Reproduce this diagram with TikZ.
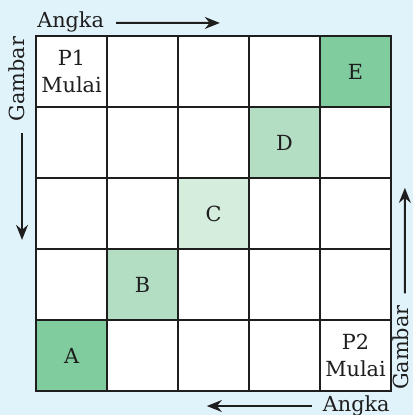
\documentclass[tikz,border=0pt]{standalone}
\usepackage{xcolor}
\usepackage{tikz}
\usepackage{fontspec}
\setmainfont{DejaVu Serif}
\usetikzlibrary{arrows.meta,positioning,calc}
\definecolor{bgblue}{HTML}{E1F3FA}
\definecolor{gdark}{HTML}{80CC9E}
\definecolor{gmid}{HTML}{B3DEC4}
\definecolor{glight}{HTML}{D5EDDD}
\definecolor{ink}{HTML}{1E1E1E}

\begin{document}
\begin{tikzpicture}[
  cell/.style={draw=ink, line width=1.8pt, fill=white, minimum size=1.8cm, inner sep=0pt, align=center, text=ink},
  lbl/.style={inner sep=0pt, text=ink},
  arr/.style={-{Stealth[length=3.8mm,width=3mm]}, line width=1.5pt, draw=ink},
  font=\fontsize{15}{19}\selectfont
]
  \fill[bgblue] (-0.913,-0.608) rectangle (9.558,9.912);
  \useasboundingbox (-0.913,-0.608) rectangle (9.558,9.912);

  % 5x5 board
  \foreach \col in {1,...,5}
    \foreach \row in {1,...,5}
      \node[cell] (c\col\row) at ({(\col-0.5)*1.8},{(5.5-\row)*1.8}) {};

  \node[cell, fill=gdark]  (E) at (c51) {E};
  \node[cell, fill=gmid]   (D) at (c42) {D};
  \node[cell, fill=glight] (C) at (c33) {C};
  \node[cell, fill=gmid]   (B) at (c24) {B};
  \node[cell, fill=gdark]  (A) at (c15) {A};

  \node[align=center, text=ink] (p1) at (c11) {P1\\Mulai};
  \node[align=center, text=ink] (p2) at (c55) {P2\\Mulai};

  % axis labels
  \node[lbl, anchor=west] (angkaTop) at (0.025,9.35) {Angka};
  \node[lbl, anchor=east] (angkaBot) at (8.97,-0.38) {Angka};
  \node[lbl, rotate=90] (gambarLeft) at (-0.48,7.91) {Gambar};
  \node[lbl, rotate=90] (gambarRight) at (9.25,1.1) {Gambar};

  \coordinate (topEnd) at (4.66,9.33);
  \coordinate (botEnd) at (4.33,-0.38);
  \coordinate (leftEnd) at (-0.355,3.83);
  \coordinate (rightEnd) at (9.35,5.15);

  \draw[arr] ([xshift=0.3cm,yshift=-0.02cm]angkaTop.east) -- (topEnd);
  \draw[arr] ([xshift=-0.28cm]angkaBot.west) -- (botEnd);
  \draw[arr] ([xshift=0.125cm,yshift=-0.3cm]gambarLeft.west) -- (leftEnd);
  \draw[arr] ([xshift=0.1cm,yshift=0.3cm]gambarRight.east) -- (rightEnd);
\end{tikzpicture}
\end{document}
